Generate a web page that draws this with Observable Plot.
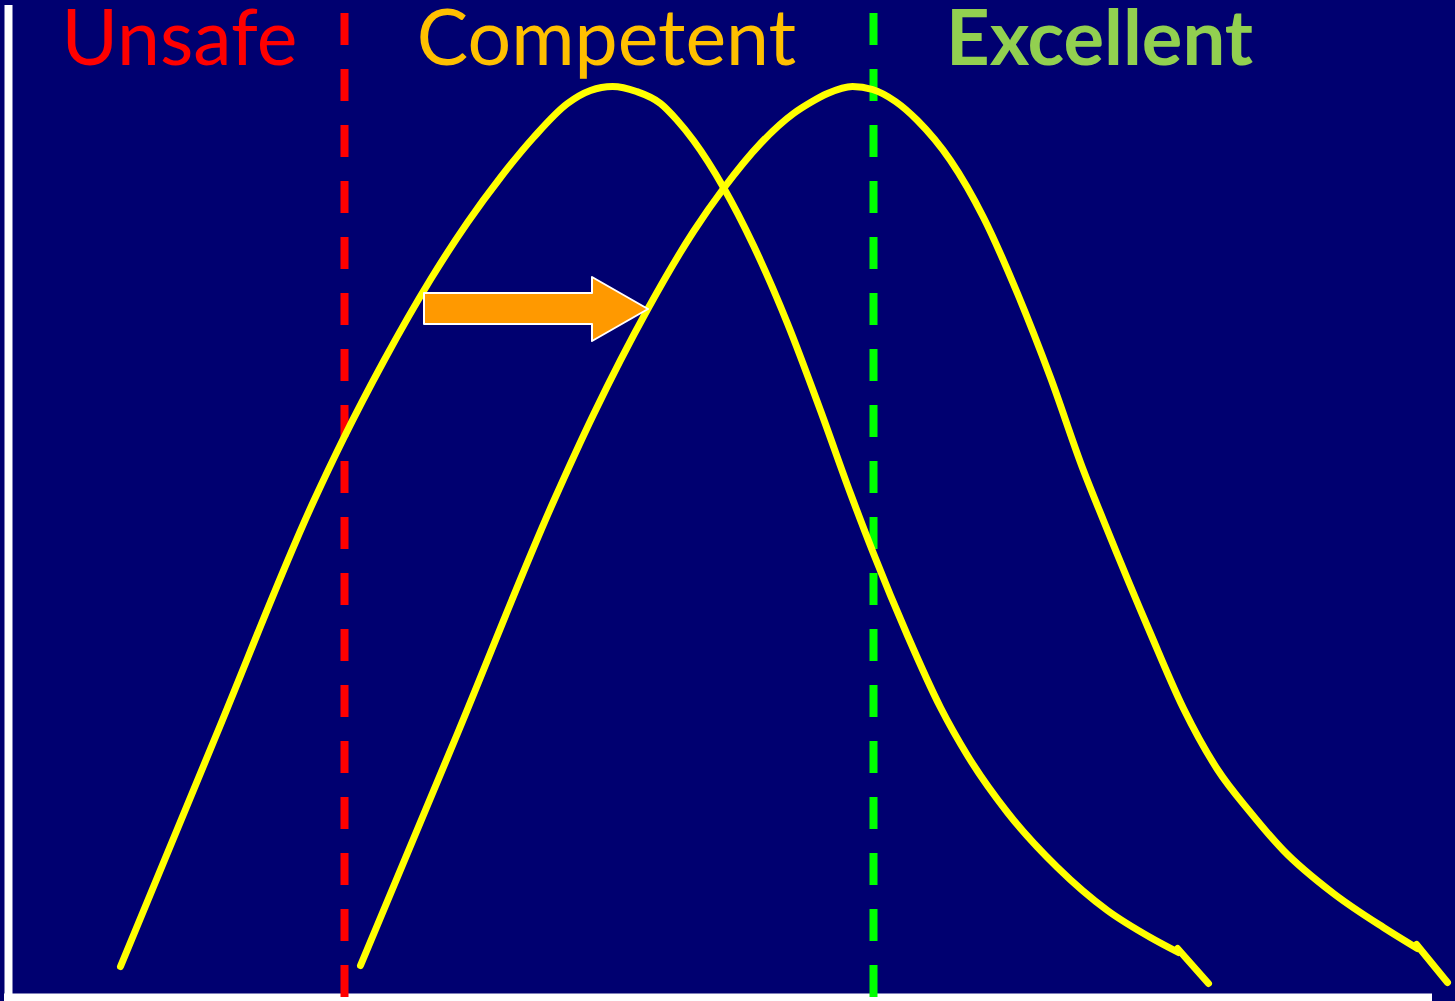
<!DOCTYPE html>
<html>
<head>
<meta charset="utf-8">
<script src="https://cdn.jsdelivr.net/npm/d3@7"></script>
<script src="https://cdn.jsdelivr.net/npm/@observablehq/plot@0.6"></script>
<style>
  html, body { margin: 0; padding: 0; background: #000070; overflow: hidden; }
  #chart svg { display: block; overflow: visible; }
</style>
</head>
<body>
<div id="chart"></div>
<script>
// Skill score (x) and relative frequency (y)
const beforeScore = [120, 216, 313, 343, 383, 430, 467, 500, 533, 567, 590, 612, 636, 660, 676, 693, 723, 753, 787, 820, 850, 873, 907, 940, 967, 1007, 1057, 1107, 1150, 1178];
const beforeFreq  = [27, 259, 492, 555, 632, 714, 771, 816, 856, 890, 903, 907, 902, 890, 874, 853, 806, 748, 670, 583, 500, 440, 358, 286, 238, 181, 126, 83, 56, 41];
const beforeTailScore = [1177, 1208];
const beforeTailFreq  = [45, 10];

const afterScore  = [360, 457, 553, 593, 647, 693, 723, 760, 793, 810, 827, 852, 872, 895, 917, 950, 983, 1017, 1050, 1083, 1103, 1150, 1183, 1217, 1250, 1283, 1333, 1383, 1417];
const afterFreq   = [28, 260, 492, 579, 684, 762, 805, 850, 880, 891, 900, 907, 904, 892, 873, 833, 776, 700, 616, 523, 473, 360, 285, 224, 181, 143, 100, 66, 45];
const afterTailScore = [1416, 1447];
const afterTailFreq  = [49, 11];

// Thresholds
const thresholdNames  = ["unsafe", "excellent"];
const thresholdScores = [344, 873];
const thresholdColors = ["#FF0000", "#00FF00"];

// Zone labels
const zoneLabels  = ["Unsafe", "Competent", "Excellent"];
const zoneCenters = [179, 606, 1099];
const zoneColors  = ["#FF0000", "#FFC000", "#92D050"];
const labelLevel  = 929;

// Shift arrow outline (score, lower, upper)
const arrowScore = [424, 592, 592, 648];
const arrowLow   = [669, 669, 652, 684];
const arrowHigh  = [700, 700, 716, 684];

// Frame
const axisTop = 988, axisBottom = -8, axisLeft = 8, axisStart = 4, axisRight = 1432, baseLevel = -4;
const ruleTop = 980, ruleBottom = -4;

const toPts = (xs, ys) => xs.map((x, i) => ({x, y: ys[i]}));
const before = toPts(beforeScore, beforeFreq);
const beforeTail = toPts(beforeTailScore, beforeTailFreq);
const after = toPts(afterScore, afterFreq);
const afterTail = toPts(afterTailScore, afterTailFreq);
const thresholds = thresholdNames.map((n, i) => ({n, x: thresholdScores[i], c: thresholdColors[i]}));
const labels = zoneLabels.map((t, i) => ({t, x: zoneCenters[i], y: labelLevel, c: zoneColors[i]}));
const arrow = arrowScore.map((x, i) => ({x, y1: arrowLow[i], y2: arrowHigh[i]}));

const yellow = "#FFFF00";
const plot = Plot.plot({
  width: 1455,
  height: 1001,
  margin: 0,
  style: {background: "#000070", overflow: "visible"},
  x: {domain: [0, 1455], range: [0, 1455], axis: null},
  y: {domain: [-8, 993], range: [1001, 0], axis: null},
  marks: [
    Plot.ruleX([axisLeft], {y1: axisTop, y2: axisBottom, stroke: "white", strokeWidth: 8}),
    Plot.ruleY([baseLevel], {x1: axisStart, x2: axisRight, stroke: "white", strokeWidth: 8}),
    Plot.ruleX(thresholds, {x: "x", y1: ruleTop, y2: ruleBottom, stroke: "c", strokeWidth: 8, strokeDasharray: "32,24"}),
    Plot.line(before, {x: "x", y: "y", stroke: yellow, strokeWidth: 7, curve: "monotone-x"}),
    Plot.line(after, {x: "x", y: "y", stroke: yellow, strokeWidth: 7, curve: "monotone-x"}),
    Plot.line(beforeTail, {x: "x", y: "y", stroke: yellow, strokeWidth: 7, strokeLinecap: "round"}),
    Plot.line(afterTail, {x: "x", y: "y", stroke: yellow, strokeWidth: 7, strokeLinecap: "round"}),
    Plot.area(arrow, {x1: "x", y1: "y1", y2: "y2", fill: "#FF9900", stroke: "white", strokeWidth: 2, curve: "linear"}),
    Plot.text(labels.slice(0, 2), {x: "x", y: "y", text: "t", fill: "c", fontSize: 77, fontFamily: "Lato", lineAnchor: "bottom", textAnchor: "middle"}),
    Plot.text(labels.slice(2), {x: "x", y: "y", text: "t", fill: "c", fontSize: 76, fontWeight: "bold", fontFamily: "Lato", lineAnchor: "bottom", textAnchor: "middle"})
  ]
});
document.getElementById("chart").appendChild(plot);
</script>
</body>
</html>
